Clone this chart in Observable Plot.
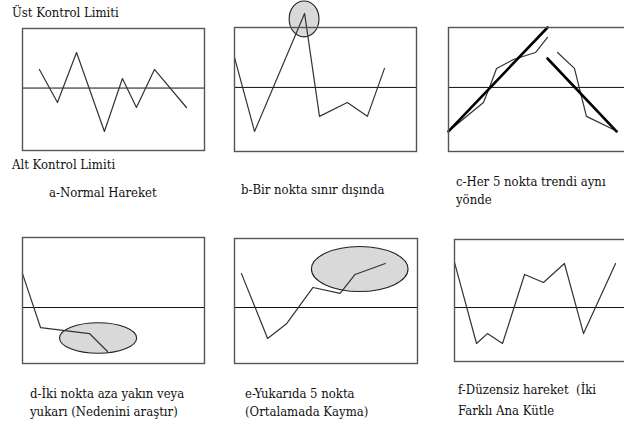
<!DOCTYPE html>
<html>
<head>
<meta charset="utf-8">
<script src="https://cdn.jsdelivr.net/npm/d3@7"></script>
<script src="https://cdn.jsdelivr.net/npm/@observablehq/plot@0.6"></script>
<style>
  html, body { margin: 0; padding: 0; background: #fff; }
  #chart { position: relative; width: 624px; height: 425px; overflow: hidden; background: #fff; color: #111; }
  #chart svg { position: absolute; overflow: visible; }
  .lbl { position: absolute; white-space: pre; line-height: 18px; font-size: 13px;
         font-family: "DejaVu Serif Condensed", "DejaVu Serif", serif; font-stretch: condensed; }
</style>
</head>
<body>
<div id="chart"></div>
<script>
// Control-chart patterns: six small panels, values in sigma units around the centre line.
const panelIds = ["a", "b", "c", "d", "e", "f"];
const captions = [
  ["a-Normal Hareket"],
  ["b-Bir nokta sınır dışında"],
  ["c-Her 5 nokta trendi aynı", "yönde"],
  ["d-İki nokta aza yakın veya", "yukarı (Nedenini araştır)"],
  ["e-Yukarıda 5 nokta", "(Ortalamada Kayma)"],
  ["f-Düzensiz hareket  (İki", "Farklı Ana Kütle"]
];
const upperLabel = "Üst Kontrol Limiti";
const lowerLabel = "Alt Kontrol Limiti";

// control limits (top / bottom edge of each panel) and centre line
const uclValues = [2.88, 2.90, 2.90, 3.39, 3.34, 3.29];
const lclValues = [-3.02, -3.10, -3.10, -2.71, -2.71, -2.61];
const centerValue = 0;

// a – normal movement
const aX = [0.93, 1.92, 2.97, 4.50, 5.49, 6.26, 7.25, 9.01];
const aY = [0.90, -0.70, 1.72, -2.10, 0.46, -0.94, 0.90, -0.94];
// b – one point outside the limit
const bX = [0.00, 1.10, 3.85, 4.67, 6.20, 7.30, 8.24];
const bY = [1.45, -2.13, 3.58, -1.40, -0.73, -1.40, 0.92];
// c – trends in the same direction (thin: samples, thick: trend)
const cUpX = [0.05, 1.92, 2.25, 2.64, 3.57, 4.78, 5.44];
const cUpY = [-2.08, -0.73, 0.00, 0.92, 1.35, 1.69, 2.42];
const cDownX = [5.99, 6.92, 7.58, 9.29];
const cDownY = [1.69, 0.92, -1.40, -2.13];
const cTrendUpX = [0.00, 5.44];
const cTrendUpY = [-2.13, 2.90];
const cTrendDownX = [5.44, 9.23];
const cTrendDownY = [1.40, -2.13];
// d – points near the lower limit
const dX = [0.00, 0.99, 3.68, 4.67];
const dY = [1.64, -0.97, -1.26, -2.13];
// e – run above the centre line (mean shift)
const eX = [0.38, 1.81, 2.86, 4.29, 5.77, 6.59, 8.24];
const eY = [1.64, -1.50, -0.77, 0.97, 0.68, 1.60, 2.13];
// f – irregular movement
const fX = [0.00, 1.21, 1.81, 2.64, 3.85, 4.89, 6.04, 7.09, 8.85];
const fY = [2.18, -1.74, -1.26, -1.74, 1.60, 1.21, 2.13, -1.26, 2.13];

// highlighted regions: centre x, centre y, radius x, radius y
const highlightB = {cx: 3.85, cy: 3.29, rx: 0.82, ry: 0.87};
const highlightD = {cx: 4.18, cy: -1.50, rx: 2.12, ry: 0.74};
const highlightE = {cx: 6.87, cy: 1.84, rx: 2.64, ry: 1.09};

const zip = (xs, ys) => xs.map((x, i) => ({x, y: ys[i]}));

const series = {
  a: [{pts: zip(aX, aY)}],
  b: [{pts: zip(bX, bY)}],
  c: [{pts: zip(cUpX, cUpY)}, {pts: zip(cDownX, cDownY)},
      {pts: zip(cTrendUpX, cTrendUpY), thick: true}, {pts: zip(cTrendDownX, cTrendDownY), thick: true}],
  d: [{pts: zip(dX, dY)}],
  e: [{pts: zip(eX, eY)}],
  f: [{pts: zip(fX, fY)}]
};
const highlights = {b: highlightB, d: highlightD, e: highlightE};

// page layout of each panel's frame
const layout = {
  a: {left: 22, top: 28, w: 182, h: 122},
  b: {left: 234, top: 27, w: 182, h: 124},
  c: {left: 448, top: 27, w: 182, h: 124},
  d: {left: 22, top: 237, w: 182, h: 126},
  e: {left: 234, top: 238, w: 183, h: 125},
  f: {left: 454, top: 239, w: 182, h: 122}
};
const captionPos = {
  a: {left: 49, top: 184, lh: 18}, b: {left: 241, top: 181, lh: 18}, c: {left: 456, top: 173, lh: 18},
  d: {left: 30, top: 385, lh: 18}, e: {left: 245, top: 385, lh: 18}, f: {left: 458, top: 379, lh: 21}
};

// ellipse drawn through the plot's own scales
function ellipseMark(h) {
  return (index, scales) => {
    const x = scales.x, y = scales.y;
    const cx = x(h.cx), cy = y(h.cy);
    const rx = Math.abs(x(h.cx + h.rx) - cx), ry = Math.abs(y(h.cy + h.ry) - cy);
    return d3.create("svg:ellipse")
      .attr("cx", cx).attr("cy", cy).attr("rx", rx).attr("ry", ry)
      .attr("fill", "#d9d9d9").attr("stroke", "#222").attr("stroke-width", 1.1)
      .node();
  };
}

const chart = document.getElementById("chart");
const M = 30;

panelIds.forEach((id, i) => {
  const L = layout[id];
  const marks = [];
  if (highlights[id]) marks.push(ellipseMark(highlights[id]));
  marks.push(Plot.ruleY([centerValue], {stroke: "#111", strokeWidth: 1}));
  for (const s of series[id]) {
    marks.push(Plot.line(s.pts, {
      x: "x", y: "y",
      stroke: s.thick ? "#000" : "#333",
      strokeWidth: s.thick ? 2.6 : 1.2
    }));
  }
  marks.push(Plot.frame({stroke: "#555", strokeWidth: 1.4}));

  const svg = Plot.plot({
    width: L.w + 2 * M,
    height: L.h + 2 * M,
    margin: M,
    x: {domain: [0, 10], axis: null},
    y: {domain: [lclValues[i], uclValues[i]], axis: null},
    marks
  });
  svg.style.left = (L.left - M) + "px";
  svg.style.top = (L.top - M) + "px";
  svg.style.background = "transparent";
  chart.appendChild(svg);

  const cap = document.createElement("div");
  cap.className = "lbl";
  cap.style.left = captionPos[id].left + "px";
  cap.style.top = captionPos[id].top + "px";
  cap.style.lineHeight = captionPos[id].lh + "px";
  cap.textContent = captions[i].join("\n");
  chart.appendChild(cap);
});

for (const [text, top] of [[upperLabel, 4], [lowerLabel, 156]]) {
  const el = document.createElement("div");
  el.className = "lbl";
  el.style.left = "12px";
  el.style.top = top + "px";
  el.textContent = text;
  chart.appendChild(el);
}
</script>
</body>
</html>
